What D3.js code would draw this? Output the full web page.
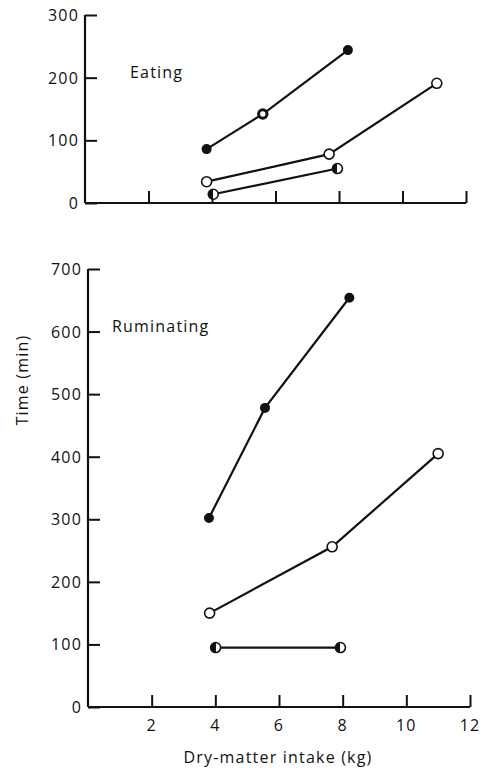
<!DOCTYPE html>
<html>
<head>
<meta charset="utf-8">
<script src="https://cdn.jsdelivr.net/npm/d3@7"></script>
<style>
  body { margin: 0; background: #fff; }
  text { font-family: "Open Sans", "DejaVu Sans", sans-serif; fill: #111; letter-spacing: 1.2px; }
</style>
</head>
<body>
<svg id="chart" width="481" height="768"></svg>
<script>
// x ticks (kg) and y ticks (min)
let xTicks = [2, 4, 6, 8, 10, 12];
let eatTicks = [0, 100, 200, 300];
let rumTicks = [0, 100, 200, 300, 400, 500, 600, 700];

// Eating panel series: [kg, min]
let eatFilled = [[3.83, 86], [5.6, 142], [8.28, 244]];
let eatOpen = [[3.83, 34], [7.69, 78], [11.08, 191]];
let eatHalf = [[4.04, 14], [7.95, 55]];

// Ruminating panel series
let rumFilled = [[3.8, 302], [5.56, 478], [8.21, 654]];
let rumOpen = [[3.82, 150], [7.67, 256], [11.0, 405]];
let rumHalf = [[4.01, 95], [7.93, 95]];

const svg = d3.select("#chart");
const defs = svg.append("defs");
let grad = defs.append("linearGradient").attr("id", "half");
grad.append("stop").attr("offset", "50%").attr("stop-color", "#111");
grad.append("stop").attr("offset", "50%").attr("stop-color", "#fff");

function panel(x0, x1, y0, y1, yMax, yTicks, title, titlePos, series){
  let x = d3.scaleLinear().domain([0, 12]).range([x0, x1]);
  let y = d3.scaleLinear().domain([0, yMax]).range([y0, y1]);
  let g = svg.append("g");

  //axes: ticks point inward
  let yAxis = d3.axisRight(y).tickValues(yTicks).tickSize(12).tickFormat("");
  let ya = g.append("g").attr("transform", "translate(" + x0 + ",0)").call(yAxis);
  let xAxis = d3.axisTop(x).tickValues(xTicks).tickSize(12).tickFormat("");
  let xa = g.append("g").attr("transform", "translate(0," + y0 + ")").call(xAxis);
  [ya, xa].forEach(a => {
    a.select(".domain").attr("stroke", "#111").attr("stroke-width", 2.2);
    a.selectAll(".tick line").attr("stroke", "#111").attr("stroke-width", 2);
  });
  // plain lines, no end caps
  ya.select(".domain").attr("d", "M0," + y0 + "V" + y1);
  xa.select(".domain").attr("d", "M" + x0 + ",0H" + x1);

  g.selectAll(".ylab").data(yTicks).enter().append("text")
    .attr("x", x0 - 6).attr("y", d => y(d) + 6)
    .attr("text-anchor", "end").attr("font-size", "16px")
    .text(d => d);

  g.append("text").attr("x", titlePos[0]).attr("y", titlePos[1])
    .attr("font-size", "16px").text(title);

  let line = d3.line().x(d => x(d[0])).y(d => y(d[1]));
  series.forEach(s => {
    g.append("path").attr("d", line(s.data)).attr("fill", "none")
      .attr("stroke", "#111").attr("stroke-width", 2.2);
    g.selectAll(null).data(s.data).enter().append("circle")
      .attr("cx", d => x(d[0])).attr("cy", d => y(d[1]))
      .attr("r", (d, i) => s.type == "filled" ? 4.2 : 5)
      .attr("fill", (d, i) => {
        if(s.type == "filled") return (s.ring == i) ? "#fff" : "#111";
        if(s.type == "half") return "url(#half)";
        return "#fff";
      })
      .attr("stroke", "#111")
      .attr("stroke-width", (d, i) => (s.type == "filled" && s.ring == i) ? 3 : 1.6);
  });
  return x;
}

panel(85, 466, 203, 15, 300, eatTicks, "Eating", [130, 78], [
  {data: eatFilled, type: "filled", ring: 1},
  {data: eatOpen, type: "open"},
  {data: eatHalf, type: "half"}
]);

let xb = panel(88, 470, 707, 269, 700, rumTicks, "Ruminating", [112, 332], [
  {data: rumFilled, type: "filled"},
  {data: rumOpen, type: "open"},
  {data: rumHalf, type: "half"}
]);

svg.selectAll(".xlab").data(xTicks).enter().append("text")
  .attr("x", d => xb(d)).attr("y", 731)
  .attr("text-anchor", "middle").attr("font-size", "16px")
  .text(d => d);

svg.append("text").attr("x", 278).attr("y", 763)
  .attr("text-anchor", "middle").attr("font-size", "16px")
  .text("Dry-matter intake (kg)");

svg.append("text").attr("transform", "translate(28,380) rotate(-90)")
  .attr("text-anchor", "middle").attr("font-size", "16px")
  .text("Time (min)");
</script>
</body>
</html>
